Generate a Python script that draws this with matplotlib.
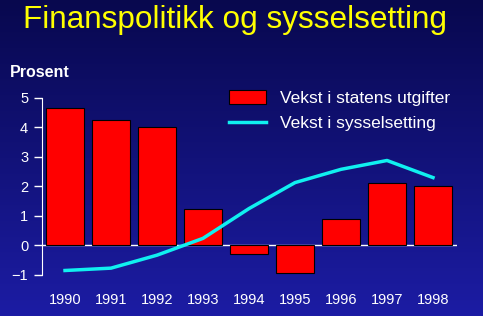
import numpy as np
import matplotlib
matplotlib.use('Agg')
import matplotlib.pyplot as plt

years = ['1990', '1991', '1992', '1993', '1994', '1995', '1996', '1997', '1998']
utgifter = [4.65, 4.24, 4.0, 1.25, -0.28, -0.92, 0.88, 2.1, 2.0]
sysselsetting = [-0.85, -0.77, -0.33, 0.24, 1.25, 2.13, 2.58, 2.88, 2.3]
yticks = [-1, 0, 1, 2, 3, 4, 5]

plt.rcParams['font.family'] = ['Liberation Sans', 'DejaVu Sans']

fig = plt.figure(figsize=(4.83, 3.16), dpi=100)

# background gradient
bg = fig.add_axes([0, 0, 1, 1])
grad = np.linspace(0, 1, 256).reshape(-1, 1)
cmap = matplotlib.colors.LinearSegmentedColormap.from_list('bg', ['#08084e', '#1c1ca4'])
bg.imshow(grad, aspect='auto', cmap=cmap, extent=[0, 1, 0, 1])
bg.axis('off')

ax = fig.add_axes([0.087, 0.130, 0.859, 0.560])
ax.set_facecolor('none')
x = np.arange(len(years))
bars = ax.bar(x, utgifter, width=0.84, color='#ff0000', edgecolor='black', linewidth=0.8,
              label='Vekst i statens utgifter', zorder=2)
line, = ax.plot(x, sysselsetting, color='#10f0f0', linewidth=2.5,
                label='Vekst i sysselsetting', zorder=3)
ax.axhline(0, color='white', linewidth=1, zorder=1)

ax.set_xlim(-0.5, 8.52)
ax.set_ylim(-1, 5)
ax.set_yticks(yticks)
ax.set_xticks(x)
ax.set_xticklabels(years)
for s in ['top', 'right', 'bottom']:
    ax.spines[s].set_visible(False)
ax.spines['left'].set_color('white')
ax.tick_params(axis='y', colors='white', labelsize=10.5, length=6, width=1, pad=4)
ax.tick_params(axis='x', colors='white', labelsize=10.5, length=0, pad=13)

ax.legend([bars, line], ['Vekst i statens utgifter', 'Vekst i sysselsetting'],
          loc='upper right', bbox_to_anchor=(1.012, 1.115), frameon=False, fontsize=12.5,
          labelcolor='white', handlelength=2.1, handleheight=0.85, borderpad=0.2,
          labelspacing=0.55, handletextpad=0.8)

fig.text(0.02, 0.755, 'Prosent', color='white', fontsize=11.5, fontweight='bold')
fig.text(0.048, 0.937, 'Finanspolitikk og sysselsetting', color='#ffff00', fontsize=22.7, va='center')

fig.savefig('out.png', dpi=100)
